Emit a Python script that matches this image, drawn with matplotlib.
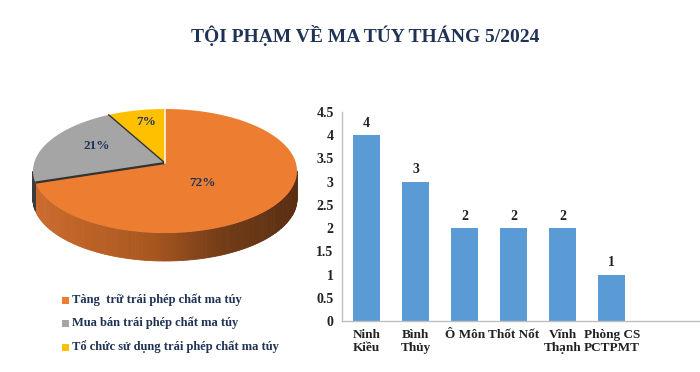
import numpy as np
import matplotlib
matplotlib.use("Agg")
import matplotlib.pyplot as plt
from matplotlib.patches import Polygon, Rectangle
from matplotlib.colors import LinearSegmentedColormap

# pie data (%)
pie_labels = ["Tàng  trữ trái phép chất ma túy",
              "Mua bán trái phép chất ma túy",
              "Tổ chức sử dụng trái phép chất ma túy"]
pie_values = [72, 21, 7]
pie_colors = ["#ed7d31", "#a5a5a5", "#ffc000"]

# bar data
bar_cats = ["Ninh\nKiều", "Bình\nThủy", "Ô Môn", "Thốt Nốt", "Vĩnh\nThạnh", "Phòng CS\nPCTPMT"]
bar_vals = [4, 3, 2, 2, 2, 1]

plt.rcParams['font.family'] = ['Liberation Serif', 'DejaVu Serif']
navy = "#1f3356"

W, H = 700, 372
fig = plt.figure(figsize=(W / 100, H / 100), dpi=100)
fig.patch.set_facecolor("white")

# full-figure axes in pixel units for the 3D pie, title and legend
ax = fig.add_axes([0, 0, 1, 1])
ax.set_xlim(0, W)
ax.set_ylim(H, 0)
ax.axis("off")

ax.text(365, 36, "TỘI PHẠM VỀ MA TÚY THÁNG 5/2024", ha="center", va="center",
        fontsize=14, fontweight="bold", color=navy)

# pie geometry (pixels)
cx, cy, rx, ry, depth = 165, 171, 132, 62, 28
apex = (165, 163)
side_cmap = LinearSegmentedColormap.from_list(
    "side", [(0, "#cc6c2e"), (0.45, "#a9561f"), (0.7, "#743d17"), (1, "#5a2e12")])
side_gray = "#3c3c3c"

fr = np.array(pie_values, float) / sum(pie_values)
cum = np.concatenate([[0], np.cumsum(fr)])
start = 90.0

def ept(t):
    return cx + rx * np.cos(np.radians(t)), cy - ry * np.sin(np.radians(t))

# sides (front half only)
for i in range(len(pie_values)):
    t0 = start - cum[i] * 360
    t1 = start - cum[i + 1] * 360
    ts = np.linspace(t1, t0, 200)
    for a, b in zip(ts[:-1], ts[1:]):
        if np.sin(np.radians((a + b) / 2)) >= 0:
            continue
        xa, ya = ept(a)
        xb, yb = ept(b)
        if i == 0:
            col = side_cmap((xa - (cx - rx)) / (2 * rx))
        else:
            col = side_gray
        ax.add_patch(Polygon([(xa, ya), (xb, yb), (xb, yb + depth), (xa, ya + depth)],
                             closed=True, facecolor=col, edgecolor=col, lw=0.6, zorder=1))

# top faces
for i in range(len(pie_values)):
    t0 = start - cum[i] * 360
    t1 = start - cum[i + 1] * 360
    ts = np.linspace(t0, t1, 200)
    pts = [apex] + [ept(t) for t in ts]
    ax.add_patch(Polygon(pts, closed=True, facecolor=pie_colors[i],
                         edgecolor="none", zorder=2))

# slice edges
xg, yg = ept(start - cum[1] * 360)
ax.plot([apex[0], xg], [apex[1], yg], color="#333333", lw=1.6, zorder=3,
        solid_capstyle="butt")
xy_, yy_ = ept(start - cum[2] * 360)
ax.plot([apex[0], xy_], [apex[1], yy_], color="#333333", lw=1.0, zorder=3)
xt, yt = ept(start)
ax.plot([apex[0], xt], [apex[1], yt], color="#fff5e0", lw=1.2, zorder=3)

label_xy = [(203, 183), (97, 146), (146, 122)]
for (lx, ly), v in zip(label_xy, pie_values):
    ax.text(lx, ly, f"{v}%", ha="center", va="center", fontsize=9.5,
            fontweight="bold", color=navy, zorder=4)

# legend
leg_y = [300, 323, 347]
for yy, lab, col in zip(leg_y, pie_labels, pie_colors):
    ax.add_patch(Rectangle((62, yy - 3.5), 7, 7, facecolor=col, edgecolor="none"))
    ax.text(72, yy, lab, ha="left", va="center", fontsize=9, fontweight="bold",
            color=navy)

# bar chart
bx = fig.add_axes([342 / W, 1 - 321 / H, 358 / W, 209 / H])
x = np.arange(len(bar_vals))
bx.bar(x, bar_vals, width=0.55, color="#5b9bd5", zorder=2)
for xi, v in zip(x, bar_vals):
    bx.text(xi, v + 0.12, str(v), ha="center", va="bottom", fontsize=10,
            fontweight="bold", color="#222222")
bx.set_xlim(-0.5, 6.8)
bx.set_ylim(0, 4.5)
bx.set_yticks(np.arange(0, 4.51, 0.5))
bx.set_yticklabels([f"{v:g}" for v in np.arange(0, 4.51, 0.5)])
bx.set_xticks(x)
bx.set_xticklabels(bar_cats)
for s in ["top", "right"]:
    bx.spines[s].set_visible(False)
for s in ["left", "bottom"]:
    bx.spines[s].set_color("#bfbfbf")
    bx.spines[s].set_linewidth(1)
bx.tick_params(axis="y", length=0, pad=6, labelsize=10, colors="#222222")
bx.tick_params(axis="x", length=0, pad=6, labelsize=9.5, colors="#222222")
for lab in bx.get_xticklabels() + bx.get_yticklabels():
    lab.set_fontweight("bold")
    lab.set_linespacing(1.05)
bx.patch.set_alpha(0)

fig.savefig("out.png", dpi=100)
